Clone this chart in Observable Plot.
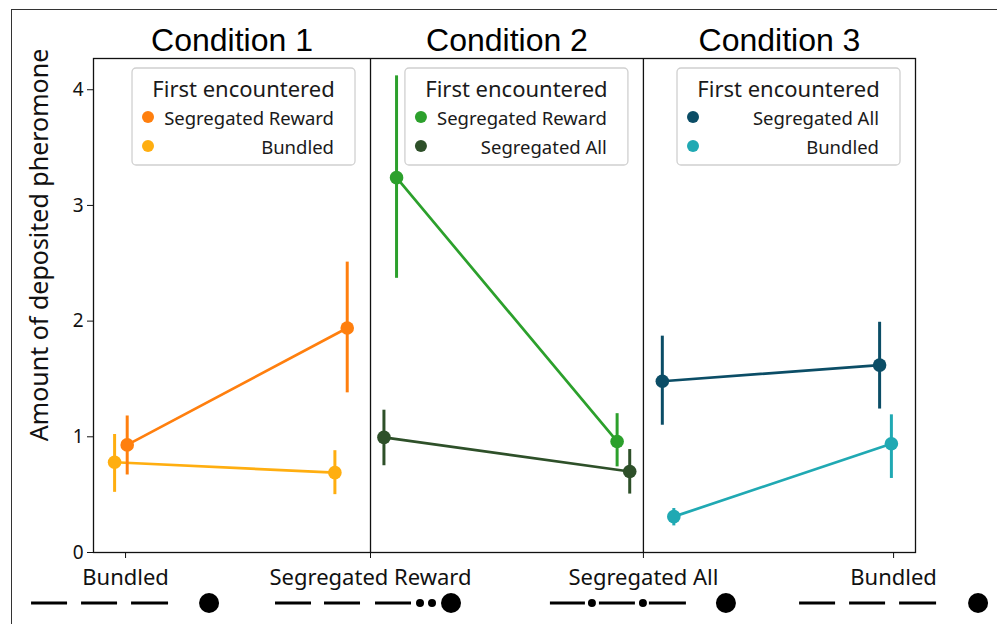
<!DOCTYPE html>
<html><head><meta charset="utf-8">
<script src="https://cdn.jsdelivr.net/npm/d3@7"></script>
<script src="https://cdn.jsdelivr.net/npm/@observablehq/plot@0.6"></script>
<style>
body{margin:0;background:#fff;}
#wrap{position:relative;width:997px;height:624px;overflow:hidden;}
#border{position:absolute;left:11px;top:9px;right:-5px;bottom:-5px;border-left:1.5px solid #333;border-top:1.5px solid #333;pointer-events:none}
svg{position:absolute;left:0;top:0;}
</style></head><body><div id="wrap"><div id="border"></div></div>
<script>
// ---- data ----
const conditions = ["Condition 1", "Condition 2", "Condition 3"];
const panelEdges = [0, 1.011, 2.007, 3];
const seriesNames = [["Segregated Reward", "Bundled"], ["Segregated Reward", "Segregated All"], ["Segregated All", "Bundled"]];
const seriesColors = [["#ff7f0e", "#ffae10"], ["#2ca02c", "#2e5029"], ["#0b4d66", "#20a9b3"]];
// x position (shared axis units) of the first and second point of each series
const xPositions = [[[0.123, 0.926], [0.077, 0.881]], [[1.106, 1.911], [1.060, 1.957]], [[2.076, 2.869], [2.118, 2.912]]];
const means = [[[0.93, 1.94], [0.78, 0.69]], [[3.24, 0.96], [0.995, 0.70]], [[1.48, 1.62], [0.31, 0.94]]];
const lower = [[[0.67, 1.38], [0.52, 0.50]], [[2.37, 0.74], [0.75, 0.505]], [[1.10, 1.24], [0.23, 0.64]]];
const upper = [[[1.18, 2.51], [1.02, 0.88]], [[4.12, 1.20], [1.23, 0.89]], [[1.87, 1.99], [0.38, 1.19]]];
const tickPositions = [0.117, 1.011, 2.007, 2.920];
const tickLabels = ["Bundled", "Segregated Reward", "Segregated All", "Bundled"];
const yTicks = [0, 1, 2, 3, 4];
const legendTitle = "First encountered";
const yLabel = "Amount of deposited pheromone";

// ---- build table ----
const rows = [];
conditions.forEach((c, ci) => {
  seriesNames[ci].forEach((s, si) => {
    [0, 1].forEach(k => {
      rows.push({
        key: ci + "-" + si, series: s, color: seriesColors[ci][si],
        x: xPositions[ci][si][k], y: means[ci][si][k],
        lo: lower[ci][si][k], hi: upper[ci][si][k]
      });
    });
  });
});
const labelMap = new Map(tickPositions.map((p, i) => [p, tickLabels[i]]));
const titleRows = conditions.map((c, i) => ({text: c, x: (panelEdges[i] + panelEdges[i + 1]) / 2}));

const plot = Plot.plot({
  width: 997, height: 624,
  marginLeft: 93, marginRight: 82, marginTop: 58, marginBottom: 72,
  style: {fontFamily: "Noto Sans", color: "#111", background: "transparent"},
  x: {domain: [0, 3]},
  y: {domain: [0, 4.27]},
  marks: [
    Plot.ruleX(panelEdges.slice(1, 3), {stroke: "#111", strokeWidth: 1.3}),
    Plot.line(rows, {x: "x", y: "y", z: "key", stroke: "color", strokeWidth: 2.7}),
    Plot.ruleX(rows, {x: "x", y1: "lo", y2: "hi", stroke: "color", strokeWidth: 3}),
    Plot.dot(rows, {x: "x", y: "y", fill: "color", r: 6.8, stroke: null}),
    Plot.frame({stroke: "#111", strokeWidth: 1.3}),
    Plot.axisY(yTicks, {tickSize: 6, tickPadding: 4, fontSize: 19, label: null, stroke: "#111",
      tickFormat: d => String(d)}),
    Plot.axisX(tickPositions, {tickSize: 6, tickPadding: 11, fontSize: 22, label: null, stroke: "#111",
      tickFormat: d => labelMap.get(d)}),
    Plot.text(titleRows, {x: "x", text: "text", frameAnchor: "top", lineAnchor: "middle", dy: -18, fontSize: 32,
      fontFamily: "Liberation Sans", fill: "#000"})
  ]
});
document.getElementById("wrap").appendChild(plot);

const xs = plot.scale("x");
const svg = d3.select(plot);

// y label
svg.append("text")
  .attr("transform", "translate(38,245) rotate(-90)")
  .attr("text-anchor", "middle").attr("dominant-baseline", "central")
  .attr("font-family", "Noto Sans").attr("font-size", 25).attr("fill", "#111")
  .text(yLabel);

// legends
conditions.forEach((c, ci) => {
  const right = xs.apply(panelEdges[ci + 1]) - 15, w = 223, left = right - w, top = 68, h = 97;
  const g = svg.append("g");
  g.append("rect").attr("x", left).attr("y", top).attr("width", w).attr("height", h)
    .attr("rx", 4).attr("fill", "#fff").attr("fill-opacity", 0.85)
    .attr("stroke", "#d0d0d0").attr("stroke-width", 1.3);
  g.append("text").attr("x", left + w / 2).attr("y", top + 20)
    .attr("text-anchor", "middle").attr("dominant-baseline", "central")
    .attr("font-family", "Noto Sans").attr("font-size", 22).attr("fill", "#1a1a1a").text(legendTitle);
  seriesNames[ci].forEach((s, si) => {
    const yy = top + 49 + si * 29;
    g.append("circle").attr("cx", left + 16).attr("cy", yy).attr("r", 6).attr("fill", seriesColors[ci][si]);
    g.append("text").attr("x", right - 21).attr("y", yy)
      .attr("text-anchor", "end").attr("dominant-baseline", "central")
      .attr("font-family", "Noto Sans").attr("font-size", 18.5).attr("fill", "#1a1a1a").text(s);
  });
});

// glyphs under the tick labels
const dash = (a, b) => ({t: "d", a, b});
const small = a => ({t: "s", a});
const big = a => ({t: "b", a});
const glyphs = [
  [dash(-94, -58), dash(-44, -8), dash(6, 43), big(84)],
  [dash(-95, -59), dash(-46, -10), dash(5, 41), small(50), small(62), big(81)],
  [dash(-93, -58), small(-51), dash(-44, -8), small(0), dash(6, 43), big(83)],
  [dash(-94, -58), dash(-44, -8), dash(6, 43), big(85)]
];
const gy = 603;
tickPositions.forEach((p, i) => {
  const cx = xs.apply(p);
  glyphs[i].forEach(e => {
    if (e.t === "d") svg.append("line").attr("x1", cx + e.a).attr("x2", cx + e.b).attr("y1", gy).attr("y2", gy)
      .attr("stroke", "#000").attr("stroke-width", 3.2);
    else svg.append("circle").attr("cx", cx + e.a).attr("cy", gy).attr("r", e.t === "b" ? 10 : 4).attr("fill", "#000");
  });
});
</script></body></html>
